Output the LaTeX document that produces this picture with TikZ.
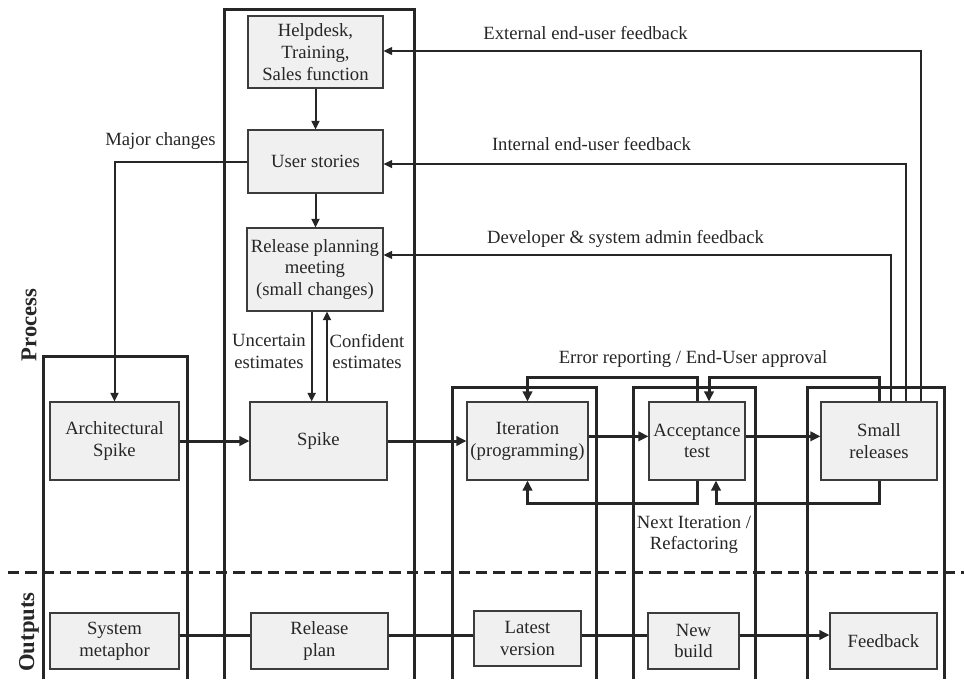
\documentclass[tikz,border=0pt]{standalone}
\usepackage{fontspec}
\setmainfont{Liberation Serif}
\usetikzlibrary{arrows.meta,calc}
\definecolor{ink}{HTML}{262626}
\definecolor{boxfill}{HTML}{F0F0F0}
\definecolor{boxline}{HTML}{3C3C3C}

\begin{document}
\begin{tikzpicture}[x=0.75pt,y=-0.75pt,
  txt/.style={font=\fontsize{14pt}{16.3pt}\selectfont, text=ink},
  blk/.style={txt, draw=boxline, line width=0.8pt, fill=boxfill, inner sep=0pt, align=center},
  lbl/.style={txt, inner sep=0pt},
  side/.style={rotate=90, inner sep=0pt, text=ink, font=\bfseries\fontsize{17pt}{20pt}\selectfont},
  frame/.style={draw=ink, line width=2.25pt},
  divider/.style={draw=ink, line width=2.25pt, dash pattern=on 8.5pt off 4.5pt},
  flow/.style={draw=ink, line width=2.25pt, -{Triangle[length=7.5pt,width=7pt]}},
  outl/.style={draw=ink, line width=2.25pt},
  mid/.style={draw=ink, line width=1.5pt, -{Triangle[length=6.5pt,width=6pt]}},
  fb/.style={draw=ink, line width=1.1pt, -{Triangle[length=6.5pt,width=6pt]}}
]
\useasboundingbox (0,0) rectangle (964,679);

% phase frames, open at the bottom
\draw[frame] (43,679) -- (43,356) -- (187,356) -- (187,679);
\draw[frame] (224,679) -- (224,9) -- (414,9) -- (414,679);
\draw[frame] (452,679) -- (452,387) -- (596,387) -- (596,679);
\draw[frame] (633,679) -- (633,387) -- (755,387) -- (755,679);
\draw[frame] (807,679) -- (807,387) -- (944,387) -- (944,679);

% process / outputs divider
\draw[divider] (8,572) -- (964,572);

% row labels
\node[side] (proc) at (29,325) {Process};
\node[side] (outp) at (29,632) {Outputs};

% process boxes
\node[blk, minimum width=101.25pt, minimum height=54pt] (help) at (315.5,52) {Helpdesk,\\Training,\\Sales function};
\node[blk, minimum width=101.25pt, minimum height=47.25pt] (stories) at (315.5,161.5) {User stories};
\node[blk, minimum width=102pt, minimum height=62.25pt] (rpm) at (315,269.5) {Release planning\\meeting\\(small changes)};
\node[blk, minimum width=96.75pt, minimum height=58.5pt] (arch) at (114.5,441) {Architectural\\Spike};
\node[blk, minimum width=102.75pt, minimum height=58.5pt] (spike) at (318.5,441) {Spike};
\node[blk, minimum width=90.75pt, minimum height=58.5pt] (iter) at (527.5,441) {Iteration\\(programming)};
\node[blk, minimum width=72pt, minimum height=58.5pt] (accept) at (697,441) {Acceptance\\test};
\node[blk, minimum width=87pt, minimum height=58.5pt] (small) at (879,441) {Small\\releases};

% output boxes
\node[blk, minimum width=96.75pt, minimum height=42pt] (sysmet) at (114.5,641) {System\\metaphor};
\node[blk, minimum width=102.75pt, minimum height=42pt] (relplan) at (319.5,641) {Release\\plan};
\node[blk, minimum width=80.25pt, minimum height=41.25pt] (latest) at (527.5,638.5) {Latest\\version};
\node[blk, minimum width=68.25pt, minimum height=42pt] (newbuild) at (693.5,641) {New\\build};
\node[blk, minimum width=80.25pt, minimum height=42pt] (feedback) at (883.5,641) {Feedback};

% connector labels
\node[lbl, anchor=base] (lext) at (585.5,39.5) {External end-user feedback};
\node[lbl, anchor=base] (lint) at (591.5,150.7) {Internal end-user feedback};
\node[lbl, anchor=base] (ldev) at (625.5,243.3) {Developer \& system admin feedback};
\node[lbl, anchor=base] (lmaj) at (160.5,145) {Major changes};
\node[lbl, anchor=base] (lerr) at (693,363) {Error reporting / End-User approval};
\node[lbl, align=center] (lunc) at (269,351.7) {Uncertain\\estimates};
\node[lbl, align=center] (lcon) at (367,351.5) {Confident\\estimates};
\node[lbl, align=center] (lnext) at (694,534.8) {Next Iteration /\\Refactoring};

% planning chain
\draw[mid] (help.south) -- (help.south |- stories.north);
\draw[mid] (stories.south) -- (stories.south |- rpm.north);
\draw[mid] (stories.west) -| (arch.north);
\draw[mid] ([xshift=-2.5pt]rpm.south) -- ([xshift=-2.5pt]rpm.south |- spike.north);
\draw[mid] ([xshift=9pt]rpm.south |- spike.north) -- ([xshift=9pt]rpm.south);

% main process flow
\draw[flow] (arch.east) -- (spike.west);
\draw[flow] (spike.east) -- (iter.west);
\draw[flow] ([yshift=3.5pt]iter.east) -- ([yshift=3.5pt]accept.west);
\draw[flow] ([yshift=3.5pt]accept.east) -- ([yshift=3.5pt]small.west);

% error reporting loops (above)
\draw[flow] (accept.north) -- ++(0,-24) -| (iter.north);
\draw[flow] (small.north) -- ++(0,-24) -| ([xshift=9pt]accept.north);

% next iteration loops (below)
\draw[flow] (accept.south) -- ++(0,23) -| (iter.south);
\draw[flow] (small.south) -- ++(0,23) -| ([xshift=14.25pt]accept.south);

% feedback paths from small releases
\draw[fb] ([xshift=9pt]small.north) |- ([yshift=10.9pt]rpm.east);
\draw[fb] ([xshift=20.25pt]small.north) |- ([yshift=-1.9pt]stories.east);
\draw[fb] ([xshift=31.5pt]small.north) |- ([yshift=0.75pt]help.east);

% outputs chain
\coordinate (oline) at (0,635);
\draw[outl] (sysmet.east |- oline) -- (relplan.west |- oline);
\draw[outl] (relplan.east |- oline) -- (latest.west |- oline);
\draw[outl] (latest.east |- oline) -- (newbuild.west |- oline);
\draw[flow] (newbuild.east |- oline) -- (feedback.west |- oline);
\end{tikzpicture}
\end{document}
